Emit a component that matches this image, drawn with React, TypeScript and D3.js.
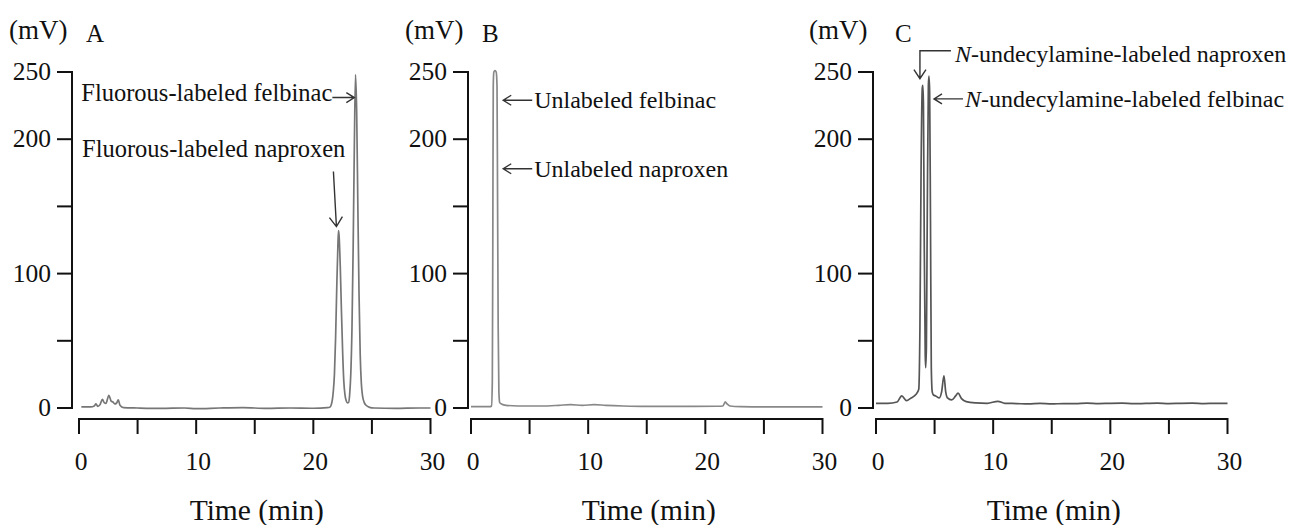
import React from 'react';
import * as d3 from 'd3';

// tick values
const timeTicks = [0, 5, 10, 15, 20, 25, 30];
const timeLabeled = [0, 10, 20, 30];
const mvTicks = [0, 50, 100, 150, 200, 250];
const mvLabeled = [0, 100, 200, 250];

// chromatograms, [time (min), signal (mV)]
const traceA: [number, number][] = [
  [0.2, 0.8], [1.0, 0.8], [1.3, 1.5], [1.45, 3], [1.6, 1.2], [1.8, 2.5], [2.0, 6.5],
  [2.15, 4], [2.3, 3.5], [2.55, 9.5], [2.75, 5], [2.9, 4.5], [3.05, 3], [3.2, 3.5],
  [3.35, 6], [3.5, 2], [3.8, 0.3], [5, 0], [7, -0.3], [9, 0], [10, -0.5], [12, 0],
  [14, 0.3], [16, -0.3], [18, 0], [20, -0.2], [21.2, 0.3], [21.4, 0.6], [21.55, 3],
  [21.7, 12], [21.8, 25], [21.9, 52], [22.0, 90], [22.1, 122], [22.15, 132], [22.2, 128],
  [22.3, 105], [22.4, 72], [22.5, 42], [22.6, 20], [22.7, 10], [22.8, 5.5], [22.92, 3.8],
  [23.0, 4], [23.1, 10], [23.2, 26], [23.3, 60], [23.4, 120], [23.5, 195], [23.6, 248],
  [23.7, 220], [23.8, 150], [23.9, 85], [24.0, 40], [24.1, 18], [24.2, 9], [24.35, 4],
  [24.5, 2], [24.8, 0.5], [25.2, 0], [27, -0.3], [29, 0], [30, 0],
];

const traceB: [number, number][] = [
  [0, 1], [1.6, 1], [1.75, 1.5], [1.82, 20], [1.86, 120], [1.9, 240], [1.95, 250],
  [2.05, 251], [2.15, 250], [2.22, 240], [2.27, 150], [2.32, 60], [2.38, 12], [2.45, 4],
  [2.6, 3], [3, 2], [4, 1.5], [6, 1.5], [7.5, 2], [8.5, 2.5], [9.5, 2], [10.5, 2.5],
  [11.5, 2], [13, 1.5], [15, 1.2], [17, 1.2], [19, 1.2], [21, 1.3], [21.5, 1.5],
  [21.7, 4.5], [21.85, 3], [22.1, 1.5], [23, 1], [25, 0.8], [28, 0.8], [30, 0.8],
];

const traceC: [number, number][] = [
  [0, 3.5], [1, 3.5], [1.8, 4.5], [2.2, 9], [2.6, 5.5], [3.0, 7.5], [3.4, 10], [3.65, 14],
  [3.75, 60], [3.85, 180], [3.95, 238], [4.0, 240], [4.05, 225], [4.12, 120], [4.2, 40],
  [4.24, 30], [4.3, 45], [4.38, 150], [4.47, 240], [4.52, 247], [4.58, 235], [4.65, 140],
  [4.72, 30], [4.8, 12], [4.9, 9.7], [5.1, 9], [5.4, 7.5], [5.6, 12], [5.8, 24], [5.95, 12],
  [6.1, 7.5], [6.45, 6], [6.8, 9], [7.0, 11], [7.3, 7], [7.7, 4.7], [8.5, 3.8], [9.5, 3.5],
  [10.4, 5], [11, 3.5], [12, 3.3], [13, 3.0], [14, 3.4], [15, 3.0], [16, 3.3], [17, 3.2],
  [18, 3.6], [19, 3.3], [20, 3.5], [21, 3.6], [22, 3.2], [23, 3.4], [24, 3.6], [25, 3.3],
  [26, 3.5], [27, 3.6], [28, 3.3], [29, 3.5], [30, 3.5],
];

type Note = { text: string; italicN?: boolean; kind: 'right' | 'left' | 'down' | 'elbow'; t: number; mv: number };

const notesA: Note[] = [
  { text: 'Fluorous-labeled felbinac', kind: 'right', t: 23.5, mv: 231 },
  { text: 'Fluorous-labeled naproxen', kind: 'down', t: 21.97, mv: 135 },
];
const notesB: Note[] = [
  { text: 'Unlabeled felbinac', kind: 'left', t: 2.75, mv: 229 },
  { text: 'Unlabeled naproxen', kind: 'left', t: 2.75, mv: 178 },
];
const notesC: Note[] = [
  { text: '-undecylamine-labeled naproxen', italicN: true, kind: 'elbow', t: 3.75, mv: 245 },
  { text: '-undecylamine-labeled felbinac', italicN: true, kind: 'left', t: 4.95, mv: 230 },
];

const panels = [
  { letter: 'A', axisX: 72, x0: 79, trace: traceA, notes: notesA, color: '#767676', mvX: 9, letterX: 86, noteSize: 24.5 },
  { letter: 'B', axisX: 468, x0: 471, trace: traceB, notes: notesB, color: '#888888', mvX: 405, letterX: 482, noteSize: 24 },
  { letter: 'C', axisX: 873, x0: 876, trace: traceC, notes: notesC, color: '#555555', mvX: 809, letterX: 895, noteSize: 24 },
];

const font = "'Liberation Serif', 'Tinos', 'Times New Roman', Times, 'DejaVu Serif', serif";
const ink = '#111';
const plotWidth = 351.5;

const Panel = ({ p }: { p: (typeof panels)[number] }) => {
  const x = d3.scaleLinear().domain([0, 30]).range([p.x0, p.x0 + plotWidth]);
  const y = d3.scaleLinear().domain([0, 250]).range([408, 72]);
  const line = d3.line<[number, number]>().x((d) => x(d[0])).y((d) => y(d[1])).curve(d3.curveMonotoneX);
  const xAxisY = 419;

  return (
    <g>
      <text x={p.mvX} y={39} fontSize={27} fill={ink}>(mV)</text>
      <text x={p.letterX} y={42} fontSize={25} fill={ink}>{p.letter}</text>

      {/* y axis */}
      <line x1={p.axisX} x2={p.axisX} y1={y(0)} y2={y(250)} stroke={ink} strokeWidth={2} />
      {mvTicks.map((v) => (
        <g key={v}>
          <line x1={p.axisX - 15} x2={p.axisX + 1} y1={y(v)} y2={y(v)} stroke={ink} strokeWidth={2} />
          {mvLabeled.includes(v) && (
            <text x={p.axisX - 21} y={y(v) - 1} dy="0.35em" textAnchor="end" fontSize={25.5} fill={ink}>
              {v}
            </text>
          )}
        </g>
      ))}

      {/* x axis */}
      <line x1={x(0)} x2={x(30)} y1={xAxisY} y2={xAxisY} stroke={ink} strokeWidth={2} />
      {timeTicks.map((t) => (
        <g key={t}>
          <line x1={x(t)} x2={x(t)} y1={xAxisY - 1} y2={xAxisY + 15} stroke={ink} strokeWidth={2} />
          {timeLabeled.includes(t) && (
            <text x={x(t) + 2} y={470} textAnchor="middle" fontSize={25.5} fill={ink}>
              {t}
            </text>
          )}
        </g>
      ))}
      <text x={(x(0) + x(30)) / 2 + 2} y={520} textAnchor="middle" fontSize={29.5} fill={ink}>
        Time (min)
      </text>

      <path d={line(p.trace) ?? ''} fill="none" stroke={p.color} strokeWidth={1.7} strokeLinejoin="round" />

      {p.notes.map((n, i) => {
        const tx = x(n.t);
        const ty = y(n.mv);
        const arrow = { stroke: '#333', strokeWidth: 1.4, fill: 'none' };
        const label = (lx: number, ly: number, anchor: 'start' | 'end') => (
          <text x={lx} y={ly} textAnchor={anchor} fontSize={p.noteSize} fill={ink}>
            {n.italicN && <tspan fontStyle="italic">N</tspan>}
            {n.text}
          </text>
        );
        if (n.kind === 'right') {
          return (
            <g key={i}>
              <path d={`M${tx - 22},${ty}H${tx}M${tx - 8},${ty - 5}L${tx},${ty}L${tx - 8},${ty + 5}`} {...arrow} />
              {label(tx - 22, ty + 3, 'end')}
            </g>
          );
        }
        if (n.kind === 'left') {
          return (
            <g key={i}>
              <path d={`M${tx + 29},${ty}H${tx}M${tx + 8},${ty - 5}L${tx},${ty}L${tx + 8},${ty + 5}`} {...arrow} />
              {label(tx + 31, ty + 8, 'start')}
            </g>
          );
        }
        if (n.kind === 'down') {
          return (
            <g key={i}>
              <path d={`M${tx - 3},${ty - 55}L${tx},${ty}M${tx - 7},${ty - 9}L${tx},${ty}L${tx + 6},${ty - 10}`} {...arrow} />
              {label(x(0) + 3, ty - 70, 'start')}
            </g>
          );
        }
        return (
          <g key={i}>
            <path d={`M${tx + 31},${ty - 28}H${tx}V${ty}M${tx - 6},${ty - 9}L${tx},${ty}L${tx + 6},${ty - 9}`} {...arrow} />
            {label(tx + 35, ty - 17, 'start')}
          </g>
        );
      })}
    </g>
  );
};

export default function App() {
  return (
    <svg
      width={1291}
      height={525}
      style={{ position: 'absolute', left: 0, top: 0, background: '#fff', fontFamily: font }}
    >
      <rect x={0} y={0} width={1291} height={525} fill="#fff" />
      {panels.map((p) => (
        <Panel key={p.letter} p={p} />
      ))}
    </svg>
  );
}
